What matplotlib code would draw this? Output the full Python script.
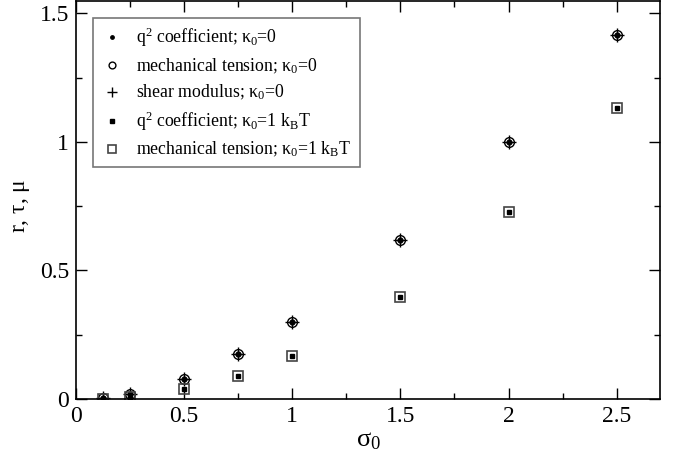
import numpy as np
import matplotlib
matplotlib.use("Agg")
import matplotlib.pyplot as plt
from matplotlib.ticker import MultipleLocator

plt.rcParams["font.family"] = ["Liberation Serif", "DejaVu Serif"]
plt.rcParams["mathtext.fontset"] = "custom"
plt.rcParams["mathtext.rm"] = "Liberation Serif"
plt.rcParams["mathtext.it"] = "Liberation Serif"
plt.rcParams["mathtext.bf"] = "Liberation Serif"

sigma0 = np.array([0.125, 0.25, 0.5, 0.75, 1.0, 1.5, 2.0, 2.5])
# kappa_0 = 0
q2_coef_k0 = np.array([0.004, 0.018, 0.079, 0.176, 0.301, 0.620, 0.998, 1.414])
tension_k0 = np.array([0.004, 0.018, 0.079, 0.176, 0.301, 0.620, 0.998, 1.414])
shear_k0 = np.array([0.004, 0.018, 0.079, 0.176, 0.301, 0.620, 0.998, 1.414])
# kappa_0 = 1 kBT
q2_coef_k1 = np.array([0.002, 0.007, 0.039, 0.090, 0.168, 0.398, 0.727, 1.131])
tension_k1 = np.array([0.002, 0.007, 0.039, 0.090, 0.168, 0.398, 0.727, 1.131])

fig = plt.figure(figsize=(6.81, 4.54), dpi=100)
ax = fig.add_axes([0.1116, 0.121, 0.8574, 0.877])

ax.plot(sigma0, q2_coef_k0, "o", ms=3.5, color="black",
        label=r"q$^2$ coefficient; $\kappa_0$=0")
ax.plot(sigma0, tension_k0, "o", ms=7, mfc="none", mec="black", mew=1.0,
        label=r"mechanical tension; $\kappa_0$=0")
ax.plot(sigma0, shear_k0, "+", ms=10, color="black", mew=1.0,
        label=r"shear modulus; $\kappa_0$=0")
ax.plot(sigma0, q2_coef_k1, "s", ms=3.4, color="black",
        label=r"q$^2$ coefficient; $\kappa_0$=1 k$_\mathrm{B}$T")
ax.plot(sigma0, tension_k1, "s", ms=7.5, mfc="none", mec="#444444", mew=1.2,
        label=r"mechanical tension; $\kappa_0$=1 k$_\mathrm{B}$T")

ax.set_xlim(0, 2.7)
ax.set_ylim(0, 1.548)
ax.xaxis.set_minor_locator(MultipleLocator(0.25))
ax.yaxis.set_minor_locator(MultipleLocator(0.25))
ax.set_xticks([0, 0.5, 1, 1.5, 2, 2.5])
ax.set_xticklabels(["0", "0.5", "1", "1.5", "2", "2.5"])
ax.set_yticks([0, 0.5, 1, 1.5])
ax.set_yticklabels(["0", "0.5", "1", "1.5"])
ax.tick_params(which="both", direction="in", top=True, right=True,
               labelsize=17, width=1.0, pad=5)
ax.tick_params(which="major", length=8)
ax.tick_params(which="minor", length=4)
for sp in ax.spines.values():
    sp.set_linewidth(1.2)

ax.set_xlabel(r"$\sigma_0$", fontsize=19, labelpad=2)
ax.set_ylabel(r"r, $\tau$, $\mu$", fontsize=17)
ax.yaxis.set_label_coords(-0.075, 0.485)

leg = ax.legend(loc="upper left", bbox_to_anchor=(0.029, 0.957), fontsize=12.8,
                frameon=True, fancybox=False, edgecolor="#555555",
                markerscale=0.7, handlelength=1.3, handletextpad=0.7,
                labelspacing=0.4, borderpad=0.45, borderaxespad=0)
leg.get_frame().set_linewidth(1.2)

fig.savefig("out.png", dpi=100)
